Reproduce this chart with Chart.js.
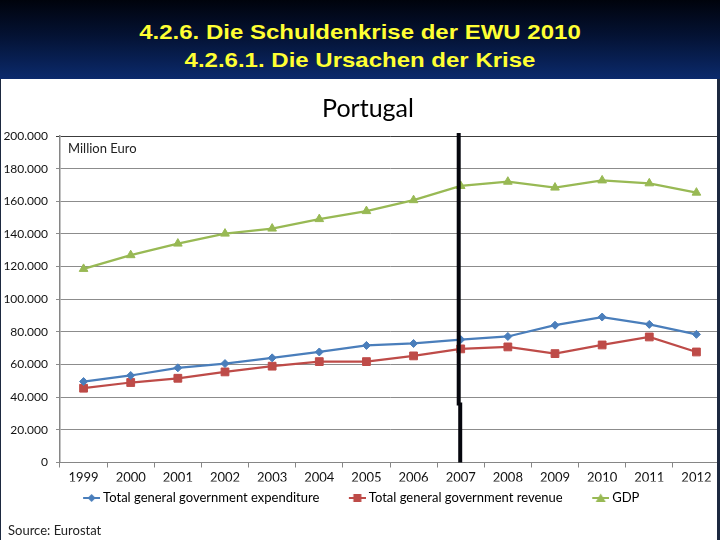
<!DOCTYPE html>
<html lang="de">
<head>
<meta charset="UTF-8">
<title>Portugal</title>
<script src="https://cdn.jsdelivr.net/npm/chart.js"></script>
<style>
  html, body { margin: 0; padding: 0; }
  body {
    width: 720px; height: 540px; position: relative; overflow: hidden;
    background: #1d2940;
    font-family: Lato, 'Open Sans', sans-serif;
  }
  .header {
    position: absolute; left: 0; top: 0; width: 720px; height: 79px;
    background: linear-gradient(180deg, #00030c 0%, #041233 45%, #0b2a6c 100%);
    color: #ffff33; text-align: center;
    font-family: 'Liberation Sans', Arial, sans-serif; font-weight: bold; font-size: 24px;
  }
  .header p { margin: 0; position: absolute; left: 0; width: 720px; line-height: 28px; transform: scale(1, 0.88); }
  .panel {
    position: absolute; left: 1px; top: 79px; width: 716px; height: 461px; background: #fff;
  }
  .chart-box { position: absolute; left: 1px; top: 79px; width: 719px; height: 461px; }
  .edge { position: absolute; left: 717px; top: 79px; width: 3px; height: 461px; background: #1d2940; }
  .chart-title { position: absolute; left: 268px; width: 200px; top: 92px; text-align: center; font-size: 25px; color: #000; }
  .unit { position: absolute; left: 68px; top: 140px; font-size: 13px; color: #222; }
  .source { position: absolute; left: 8px; top: 522px; font-size: 13px; color: #222; }
</style>
</head>
<body>
  <div class="header">
    <p style="top:18px">4.2.6. Die Schuldenkrise der EWU 2010</p>
    <p style="top:46px">4.2.6.1. Die Ursachen der Krise</p>
  </div>
  <div class="panel"></div>
  <div class="chart-box"><canvas id="chart"></canvas></div>
  <div class="edge"></div>
  <div class="chart-title">Portugal</div>
  <div class="unit">Million Euro</div>
  <div class="source">Source: Eurostat</div>

<script>
// Werte in Mio. Euro
const years = ['1999','2000','2001','2002','2003','2004','2005','2006','2007','2008','2009','2010','2011','2012'];
const expenditure = [49600, 53300, 58000, 60600, 64100, 67700, 71700, 72900, 75300, 77200, 84100, 89100, 84600, 78500];
const revenue = [45500, 49000, 51600, 55500, 59000, 61800, 61800, 65300, 69600, 70800, 66700, 72000, 76900, 67700];
const gdp = [118600, 127000, 134100, 140200, 143300, 149100, 154000, 160700, 169400, 172000, 168400, 172800, 171000, 165300];
const yTicks = [0, 20000, 40000, 60000, 80000, 100000, 120000, 140000, 160000, 180000, 200000];
const markerYear = '2007';

const seriesNames = ['Total general government expenditure', 'Total general government revenue', 'GDP'];
const seriesColors = ['#4a7ebb', '#be4b48', '#98b954'];
const seriesMarkers = ['rectRot', 'rect', 'triangle'];
const markerSizes = [4, 5.5, 5];

function fmt(v) {
  return String(v).replace(/\B(?=(\d{3})+(?!\d))/g, '.');
}

// kleine Legendensymbole: Linie mit Marker (40px breit, Linie am rechten Rand)
function legendIcon(color, style) {
  const c = document.createElement('canvas');
  c.width = 40; c.height = 12;
  const g = c.getContext('2d');
  g.strokeStyle = color; g.fillStyle = color; g.lineWidth = 2;
  g.beginPath(); g.moveTo(23, 6); g.lineTo(40, 6); g.stroke();
  const m = 31.5;
  g.beginPath();
  if (style === 'rectRot') { g.moveTo(m, 2); g.lineTo(m + 4, 6); g.lineTo(m, 10); g.lineTo(m - 4, 6); }
  else if (style === 'rect') { g.rect(m - 4, 2, 8, 8); }
  else { g.moveTo(m, 1.5); g.lineTo(m + 5, 10); g.lineTo(m - 5, 10); }
  g.closePath(); g.fill();
  return c;
}
const icons = seriesColors.map((c, i) => legendIcon(c, seriesMarkers[i]));

const datasets = [expenditure, revenue, gdp].map((d, i) => ({
  label: seriesNames[i],
  data: d,
  borderColor: seriesColors[i],
  backgroundColor: seriesColors[i],
  borderWidth: 2.25,
  pointStyle: seriesMarkers[i],
  pointRadius: markerSizes[i],
  pointBackgroundColor: seriesColors[i],
  pointBorderColor: seriesColors[i],
  pointBorderWidth: 1,
  tension: 0
}));

// Legende etwas nach links, senkrechte Markierung bei 2007
const yearLine = {
  id: 'yearLine',
  afterLayout(chart) {
    chart.legend.left -= 9;
    chart.legend.right -= 9;
  },
  afterDatasetsDraw(chart) {
    const x = chart.scales.x.getPixelForValue(years.indexOf(markerYear)) - 2;
    const { top, bottom } = chart.chartArea;
    const ctx = chart.ctx;
    ctx.save();
    ctx.strokeStyle = '#05060d';
    ctx.lineWidth = 4;
    ctx.beginPath(); ctx.moveTo(x, top - 3); ctx.lineTo(x, bottom - 57); ctx.stroke();
    ctx.beginPath(); ctx.moveTo(x + 1.5, bottom - 60); ctx.lineTo(x + 1.5, bottom); ctx.stroke();
    ctx.restore();
  }
};

new Chart(document.getElementById('chart'), {
  type: 'line',
  data: { labels: years, datasets: datasets },
  plugins: [yearLine],
  options: {
    responsive: true,
    maintainAspectRatio: false,
    animation: false,
    layout: { autoPadding: false, padding: { top: 57, left: 0, right: 0, bottom: 25.5 } },
    plugins: {
      title: { display: false },
      tooltip: { enabled: false },
      legend: {
        position: 'bottom',
        labels: {
          color: '#111',
          font: { family: 'Lato, sans-serif', size: 13 },
          usePointStyle: true,
          pointStyleWidth: 33,
          padding: 10,
          generateLabels: (chart) => chart.data.datasets.map((ds, i) => ({
            text: ds.label,
            pointStyle: icons[i],
            fillStyle: ds.borderColor,
            strokeStyle: ds.borderColor,
            lineWidth: 0,
            hidden: false,
            datasetIndex: i
          }))
        }
      }
    },
    scales: {
      x: {
        offset: true,
        afterFit: (s) => { s.height = 19; s.paddingLeft = 0; s.paddingRight = 0; },
        grid: { display: true, drawOnChartArea: false, offset: true, tickLength: 5, color: '#868686' },
        border: { color: '#868686', width: 1 },
        ticks: { color: '#111', padding: 3, font: { family: 'Lato, sans-serif', size: 13 } }
      },
      y: {
        min: 0,
        max: 200000,
        afterFit: (s) => { s.width = 59; },
        afterBuildTicks: (s) => { s.ticks = yTicks.map(v => ({ value: v })); },
        grid: {
          color: (c) => (c.tick && c.tick.value === 200000) ? '#3c3c3c' : '#8c8c8c',
          tickLength: 4,
          lineWidth: 1
        },
        border: { color: '#868686', width: 1.5 },
        ticks: {
          color: '#111',
          padding: 8,
          font: { family: 'Lato, sans-serif', size: 12 },
          callback: (v) => fmt(v)
        }
      }
    }
  }
});
</script>
</body>
</html>
